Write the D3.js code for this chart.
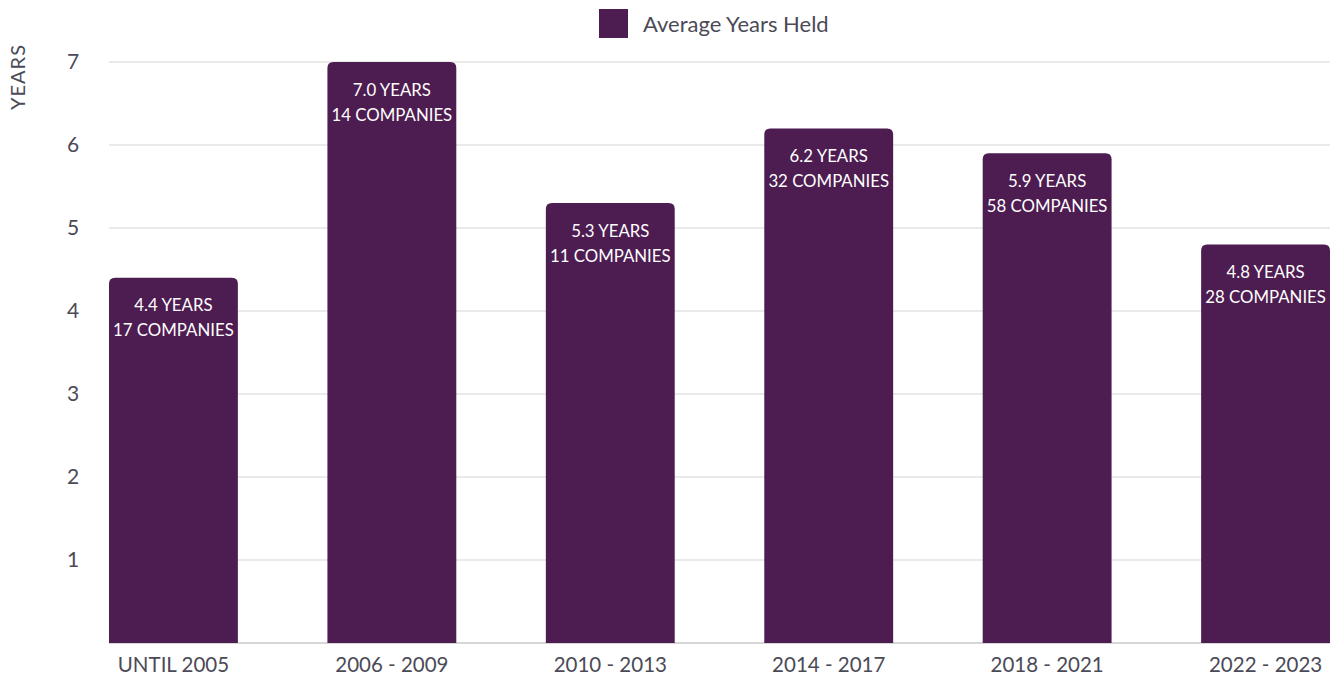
<!DOCTYPE html>
<html><head><meta charset="utf-8">
<script src="https://cdn.jsdelivr.net/npm/d3@7"></script>
<style>body{margin:0;background:#fff;} svg{display:block;font-family:"Source Sans Pro",Lato,"Noto Sans",sans-serif;}</style>
</head><body>
<svg id="c" width="1335" height="677"></svg>
<script>
const categories = ["UNTIL 2005","2006 - 2009","2010 - 2013","2014 - 2017","2018 - 2021","2022 - 2023"];
const avgYears = [4.4, 7.0, 5.3, 6.2, 5.9, 4.8];
const companies = [17, 14, 11, 32, 58, 28];
const yTicks = [1,2,3,4,5,6,7];
const seriesName = "Average Years Held";
const yTitle = "YEARS";

const W=1335,H=677;
const m={left:109,right:5,top:62,bottom:34};
const svg=d3.select("#c");
const barColor="#4d1c51", textColor="#4b4a57", gridColor="#e3e3e3";
const FONT='"Source Sans Pro",Lato,"Noto Sans",sans-serif';

const x=d3.scaleBand().domain(categories).range([m.left,W-m.right]).paddingInner(0.41).paddingOuter(0);
const y=d3.scaleLinear().domain([0,7]).range([H-m.bottom,m.top]);

// grid
svg.append("g").selectAll("line").data([0,...yTicks]).join("line")
  .attr("x1",m.left).attr("x2",W-m.right)
  .attr("y1",d=>y(d)).attr("y2",d=>y(d))
  .attr("stroke",d=>d===0?"#c8c8c8":gridColor).attr("stroke-width",1.5);

// y axis labels
const ya=svg.append("g").attr("transform",`translate(80,0)`).call(d3.axisLeft(y).tickValues(yTicks).tickFormat(d3.format("d")).tickSize(0).tickPadding(0));
ya.attr("font-family",FONT).attr("font-size",21);
ya.select(".domain").remove();
ya.selectAll("text").attr("fill",textColor).attr("text-anchor","middle").attr("dx",-7);

svg.append("text").text(yTitle).attr("transform","translate(17,77) rotate(-90)")
  .attr("text-anchor","middle").attr("dominant-baseline","central").attr("font-size",20).attr("fill",textColor).attr("letter-spacing",1);

// bars with rounded top
const r=6;
function barPath(d,i){
  const x0=x(categories[i]), w=x.bandwidth(), y0=y(d), yb=y(0);
  return `M${x0},${yb}V${y0+r}Q${x0},${y0} ${x0+r},${y0}H${x0+w-r}Q${x0+w},${y0} ${x0+w},${y0+r}V${yb}Z`;
}
svg.append("g").selectAll("path").data(avgYears).join("path").attr("d",barPath).attr("fill",barColor);

const lbl=svg.append("g").selectAll("g").data(avgYears).join("g")
  .attr("transform",(d,i)=>`translate(${x(categories[i])+x.bandwidth()/2},${y(d)})`);
lbl.append("text").attr("y",27).text(d=>d.toFixed(1)+" YEARS");
lbl.append("text").attr("y",52).text((d,i)=>companies[i]+" COMPANIES");
lbl.selectAll("text").attr("text-anchor","middle").attr("dominant-baseline","central").attr("fill","#fff").attr("font-size",16.8);

// x axis
const xa=svg.append("g").attr("transform",`translate(0,${y(0)})`).call(d3.axisBottom(x).tickSize(0).tickPadding(14));
xa.attr("font-family",FONT).attr("font-size",20.5);
xa.select(".domain").remove();
xa.selectAll("text").attr("fill",textColor).attr("dy","0.71em");

// legend
svg.append("rect").attr("x",599).attr("y",9).attr("width",29).attr("height",29).attr("fill",barColor);
svg.append("text").attr("x",643).attr("y",23).text(seriesName).attr("dominant-baseline","central").attr("font-size",22).attr("fill",textColor);
</script>
</body></html>
